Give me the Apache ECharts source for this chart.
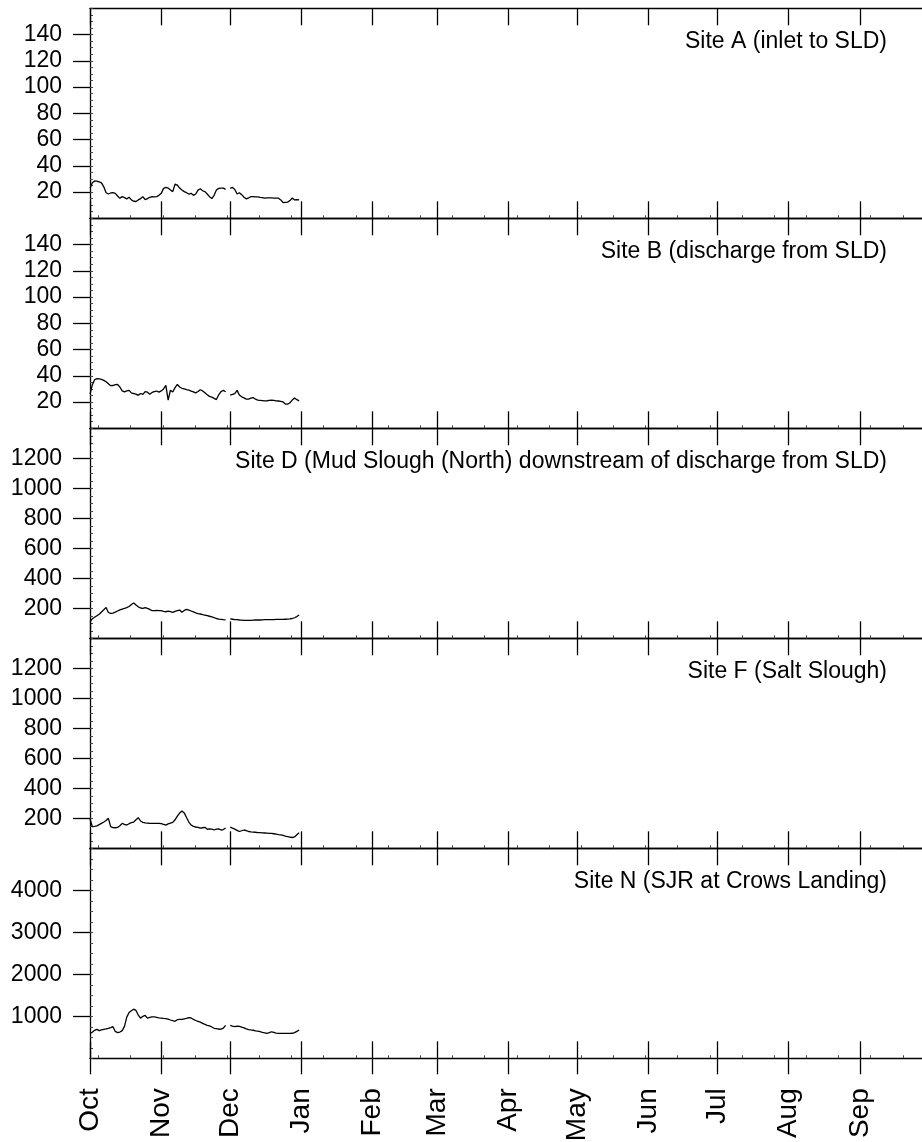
<!DOCTYPE html>
<html>
<head>
<meta charset="utf-8">
<script src="https://cdn.jsdelivr.net/npm/echarts@6/dist/echarts.min.js"></script>
<style>
html,body{margin:0;padding:0;background:#fff;}
#chart{width:922px;height:1142px;}
</style>
</head>
<body>
<div id="chart"></div>
<script>
// ---------------- data ----------------
const startDate = '2012-10-01'; // water year start; x = days since start
const monthLabels = ['Oct','Nov','Dec','Jan','Feb','Mar','Apr','May','Jun','Jul','Aug','Sep'];
const monthStartDays = [0,31,61,92,123,151,182,212,243,273,304,335];

const siteTitles = [
  'Site A (inlet to SLD)',
  'Site B (discharge from SLD)',
  'Site D (Mud Slough (North) downstream of discharge from SLD)',
  'Site F (Salt Slough)',
  'Site N (SJR at Crows Landing)'
];

const siteA = [22.8,27,28.5,28.3,27.8,27,24,19.5,18.5,19.3,
  19.5,19,17,15.2,16.5,15.8,14.8,16,14,13,
  12.8,14,15,16.5,14.2,15,16,16.5,16.3,16.5,
  17.5,19,22.8,23.5,23,21.5,20.3,26,25.3,23,
  21.5,20.3,19.5,18.5,19,17.5,18.5,21.5,22.5,21,
  20.3,18.5,16.5,15,17.5,21.5,22.8,23,23,22,
  null,22.8,23.5,22,18.5,19.5,18,16,14.8,15.5,
  16.5,16.5,16.3,16.3,16,15.8,15.3,15.5,15.5,15.5,
  15.4,15.3,15.3,14,12,12.2,12.3,13.5,15.5,14,
  14.2,14];

const siteB = [26,33,37,37.8,37.7,37.3,36.5,35.5,34,32.5,
  32.6,33.2,33.4,31.5,28.5,27.8,28.5,28.9,27,26.5,
  26,25.1,26.5,25.8,28,27.5,26,27.3,28,28.4,
  27.6,28.5,30,32.7,21.4,29,27.6,31,33.4,31.5,
  30.5,30,29.4,29,28.4,27.8,27,28,29.4,28.5,
  27,25.5,24.3,23.7,22.8,21.9,25.5,28,28.9,27.8,
  null,25.2,25.8,26.4,28.9,25.3,24,23.2,22.2,22.3,
  23,23.4,22.2,21.4,21.3,21.1,20.9,21,21.3,21.4,
  21.2,20.9,20.8,20.5,20.1,18.5,18.4,19.5,21.5,23.1,
  21.8,20.9];

const siteD = [112,130,140,150,160,175,190,206,172,166,
  168,174,182,190,195,199,204,212,225,235,
  222,210,202,200,205,200,193,184,184,186,
  185,184,180,177,181,178,173,180,185,188,
  174,186,193,188,182,176,170,165,162,158,
  155,151,147,143,138,132,128,126,124,123,
  null,129,127,125,124,122,121,120,120,120,
  120,121,122,122,122,123,124,124,124,124,
  125,126,126,126,126,127,128,129,132,137,
  145,155];

const siteF = [195,145,146,150,158,166,175,185,200,145,
  138,137,139,150,166,160,155,164,171,175,
  190,204,182,173,170,168,166,166,166,166,
  166,165,160,155,163,168,173,190,215,235,
  248,236,205,175,155,146,142,140,134,137,
  140,127,129,128,122,128,129,122,125,135,
  null,141,134,128,120,112,117,122,118,112,
  109,108,107,105,104,103,102,101,100,100,
  97,94,91,89,86,81,78,75,72,76,
  90,104];

const siteN = [594,620,665,690,660,675,690,700,712,730,
  753,640,612,625,660,760,980,1090,1130,1170,
  1140,1030,955,1000,1020,955,975,988,985,975,
  965,958,950,943,930,912,895,880,920,928,
  928,940,951,968,960,925,900,880,860,830,
  809,785,770,745,715,705,692,695,720,785,
  null,785,768,753,765,760,740,725,700,685,
  675,668,655,645,635,620,608,595,610,632,
  615,598,595,594,594,594,594,594,596,610,
  640,674];

const siteValues = [siteA, siteB, siteD, siteF, siteN];
const yMaxes = [160, 160, 1400, 1400, 5000];
const yMajorSteps = [20, 20, 200, 200, 1000];
const yTickLabels = [
  [20,40,60,80,100,120,140],
  [20,40,60,80,100,120,140],
  [200,400,600,800,1000,1200],
  [200,400,600,800,1000,1200],
  [1000,2000,3000,4000]
];

// ---------------- layout / style ----------------
const FONT = '"Liberation Sans", Arial, Helvetica, sans-serif';
const INK = '#000';
const LEFT = 90;
const TOP0 = 8.3;
const PANEL_H = 210;
const X_MAX = 362;        // days visible across the plot width
const LW = 1.3;

const minorXTicks = [];
for (let d = 3.7; d <= X_MAX; d += 14) minorXTicks.push(d);

const grids = [], xAxes = [], yAxes = [], series = [], titles = [];

siteValues.forEach((vals, i) => {
  const top = TOP0 + PANEL_H * i;
  grids.push({ left: LEFT, right: 0, top: top, height: PANEL_H, outerBoundsMode: 'none', containLabel: false });

  const baseX = {
    type: 'value', gridIndex: i, min: 0, max: X_MAX,
    splitLine: { show: false }, axisLabel: { show: false }
  };
  const mainX = xAxes.length;
  xAxes.push(Object.assign({}, baseX, {
    position: 'bottom',
    axisLine: { show: true, onZero: false, lineStyle: { color: INK, width: LW } },
    axisTick: { show: true, inside: true, length: 17, customValues: monthStartDays,
                lineStyle: { color: INK, width: LW } }
  }));
  xAxes.push(Object.assign({}, baseX, {
    position: 'top',
    axisLine: { show: true, onZero: false, lineStyle: { color: INK, width: LW } },
    axisTick: { show: true, inside: true, length: 17, customValues: monthStartDays,
                lineStyle: { color: INK, width: LW } }
  }));
  xAxes.push(Object.assign({}, baseX, {
    position: 'bottom',
    axisLine: { show: false, onZero: false },
    axisTick: { show: true, inside: true, length: 3, customValues: minorXTicks,
                lineStyle: { color: '#444', width: 1 } }
  }));
  if (i === siteValues.length - 1) {
    xAxes.push(Object.assign({}, baseX, {
      position: 'bottom',
      axisLine: { show: false, onZero: false },
      axisTick: { show: true, inside: false, length: 16, customValues: monthStartDays,
                  lineStyle: { color: INK, width: LW } },
      axisLabel: {
        show: true, customValues: monthStartDays, rotate: 90, margin: 30,
        fontSize: 28, color: INK, fontFamily: FONT,
        formatter: (v) => monthLabels[monthStartDays.indexOf(v)]
      }
    }));
  }

  const mainY = yAxes.length;
  yAxes.push({
    type: 'value', gridIndex: i, position: 'left', min: 0, max: yMaxes[i], interval: yMajorSteps[i],
    axisLine: { show: true, onZero: false, lineStyle: { color: INK, width: LW } },
    axisTick: { show: true, inside: false, length: 17, customValues: yTickLabels[i],
                lineStyle: { color: INK, width: LW } },
    axisLabel: { show: true, customValues: yTickLabels[i], margin: 28, fontSize: 23,
                 color: INK, fontFamily: FONT, formatter: (v) => String(v) },
    splitLine: { show: false }
  });
  yAxes.push({
    type: 'value', gridIndex: i, position: 'left', min: 0, max: yMaxes[i], interval: yMajorSteps[i] / 4,
    axisLine: { show: false, onZero: false },
    axisTick: { show: true, inside: true, length: 3, lineStyle: { color: '#444', width: 1 } },
    axisLabel: { show: false },
    splitLine: { show: false }
  });

  series.push({
    type: 'line', name: siteTitles[i], xAxisIndex: mainX, yAxisIndex: mainY,
    data: vals.map((v, d) => [d, v]),
    showSymbol: false, symbol: 'none', connectNulls: false, silent: true,
    lineStyle: { color: INK, width: LW }
  });

  titles.push({
    text: siteTitles[i], right: 35, top: top + 22, padding: 0,
    textStyle: { fontSize: 23, fontWeight: 'normal', color: INK, fontFamily: FONT }
  });
});

const chart = echarts.init(document.getElementById('chart'), null, { renderer: 'canvas' });
chart.setOption({
  animation: false,
  backgroundColor: '#fff',
  title: titles,
  grid: grids,
  xAxis: xAxes,
  yAxis: yAxes,
  series: series
});
</script>
</body>
</html>
